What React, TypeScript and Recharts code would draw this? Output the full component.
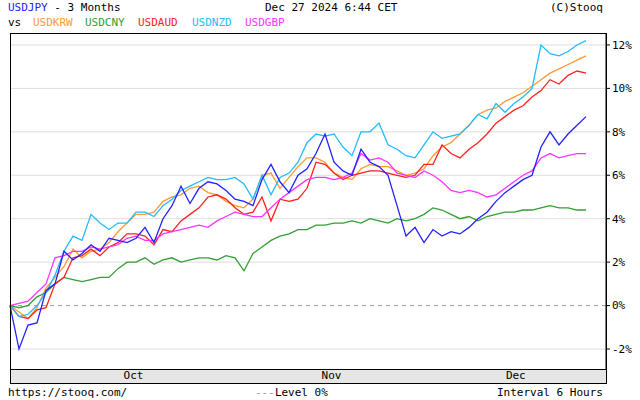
import React from 'react';
import { LineChart, Line, XAxis, YAxis, CartesianGrid, ReferenceLine } from 'recharts';

// % change since start, one value per trading day (Sep 27 .. Dec 27 2024)
const usdjpy = [0, -2.0, -0.9, -0.8, 0.7, 1.0, 2.5, 2.1, 2.4, 2.8, 2.5, 3.1, 3.0, 2.9, 3.1, 3.6, 2.9, 4.0, 4.6, 5.5, 4.7, 5.4, 5.7, 5.6, 5.3, 4.9, 4.8, 4.6, 5.8, 6.5, 5.7, 5.2, 6.0, 6.3, 7.0, 7.9, 6.6, 6.2, 6.0, 7.2, 6.6, 6.4, 6.0, 4.6, 3.2, 3.6, 2.9, 3.5, 3.2, 3.4, 3.3, 3.6, 4.0, 4.3, 4.8, 5.2, 5.5, 5.8, 6.0, 7.3, 8.0, 7.4, 7.9, 8.3, 8.7];
const usdkrw = [0, -0.3, -0.6, -0.1, 0.8, 1.3, 1.8, 2.6, 2.2, 2.5, 2.6, 2.9, 3.4, 3.8, 4.2, 4.2, 4.3, 4.8, 5.0, 5.1, 5.4, 5.5, 5.2, 5.1, 4.8, 4.6, 4.5, 4.9, 6.0, 6.1, 5.4, 5.9, 6.4, 6.8, 6.8, 6.6, 6.1, 5.9, 5.8, 6.3, 6.5, 6.4, 6.4, 6.2, 6.0, 6.1, 6.3, 6.9, 7.3, 7.5, 7.9, 8.3, 8.8, 9.0, 9.1, 9.4, 9.6, 9.8, 10.1, 10.4, 10.7, 10.9, 11.1, 11.3, 11.5];
const usdcny = [0, -0.1, 0.0, 0.4, 0.6, 1.0, 1.3, 1.2, 1.1, 1.2, 1.3, 1.3, 1.7, 2.0, 2.0, 2.2, 1.9, 2.1, 2.2, 2.0, 2.1, 2.2, 2.2, 2.1, 2.3, 2.2, 1.6, 2.4, 2.7, 3.0, 3.2, 3.3, 3.5, 3.5, 3.7, 3.7, 3.8, 3.8, 3.9, 3.8, 4.0, 3.9, 3.8, 4.0, 3.9, 4.0, 4.2, 4.5, 4.4, 4.2, 4.0, 4.1, 3.9, 4.1, 4.2, 4.3, 4.3, 4.4, 4.4, 4.5, 4.6, 4.5, 4.5, 4.4, 4.4];
const usdaud = [0, -0.5, -0.6, -0.2, -0.1, 1.0, 1.3, 2.2, 2.3, 2.6, 2.3, 2.7, 2.9, 3.3, 3.3, 3.2, 2.8, 3.5, 3.4, 3.9, 4.2, 4.5, 5.0, 5.1, 4.9, 4.5, 4.2, 4.3, 5.0, 3.9, 4.9, 4.8, 4.9, 5.4, 6.6, 6.5, 6.1, 5.8, 6.0, 6.1, 6.2, 6.2, 6.1, 6.0, 5.9, 6.0, 6.5, 6.5, 7.4, 7.0, 6.8, 7.2, 7.5, 7.9, 8.4, 8.7, 9.0, 9.2, 9.6, 9.9, 10.4, 10.2, 10.6, 10.8, 10.7];
const usdnzd = [0, -0.5, -0.4, 0.0, 0.6, 1.4, 2.5, 3.2, 3.0, 4.2, 3.8, 3.5, 3.8, 3.8, 4.3, 4.3, 4.1, 4.6, 4.9, 5.3, 5.5, 5.7, 5.9, 5.8, 5.8, 5.9, 5.6, 4.9, 6.0, 5.1, 5.9, 6.1, 6.6, 7.5, 7.9, 7.8, 7.9, 7.3, 6.9, 8.0, 8.0, 8.4, 7.4, 7.2, 6.9, 6.8, 7.4, 8.0, 7.7, 7.8, 7.9, 8.3, 8.8, 8.6, 9.3, 8.9, 9.3, 9.6, 10.0, 12.0, 11.6, 11.5, 11.7, 12.0, 12.2];
const usdgbp = [0, 0.1, 0.2, 0.6, 1.0, 2.2, 2.3, 2.5, 2.5, 2.7, 2.6, 2.7, 2.8, 3.1, 3.2, 3.0, 3.0, 3.3, 3.4, 3.5, 3.6, 3.7, 3.6, 3.9, 4.1, 4.3, 4.2, 4.1, 4.1, 4.5, 4.9, 5.2, 5.5, 5.8, 5.9, 5.9, 5.8, 5.9, 6.1, 7.0, 6.7, 6.8, 6.6, 6.1, 6.0, 5.9, 6.2, 6.0, 5.7, 5.3, 5.2, 5.3, 5.2, 5.0, 5.1, 5.4, 5.7, 6.0, 6.2, 6.8, 7.0, 6.8, 6.9, 7.0, 7.0];

const yTicks = [-2, 0, 2, 4, 6, 8, 10, 12];
const monthStarts = [2.22, 25.22, 46.22];
const monthNames = ['Oct', 'Nov', 'Dec'];
const monthMids = [13.72, 35.72, 56.2];

const series = [
  { key: 'USDKRW', data: usdkrw, color: '#ff9933' },
  { key: 'USDCNY', data: usdcny, color: '#33a033' },
  { key: 'USDAUD', data: usdaud, color: '#ff2020' },
  { key: 'USDNZD', data: usdnzd, color: '#22bbff' },
  { key: 'USDGBP', data: usdgbp, color: '#ff33ff' },
  { key: 'USDJPY', data: usdjpy, color: '#2222ff' },
];

const rows = usdjpy.map((_, i) => {
  const r: any = { k: i };
  series.forEach(s => { r[s.key] = s.data[i]; });
  return r;
});

const font = '"DejaVu Sans Mono", monospace';

const Txt = ({ x, y, color = '#000', children }: any) => (
  <div style={{ position: 'absolute', left: x, top: y, color, fontFamily: font, fontSize: 11, lineHeight: '13px', whiteSpace: 'pre' }}>
    {children}
  </div>
);

export default function App() {
  return (
    <div style={{ position: 'absolute', left: 0, top: 0, width: 640, height: 400, background: '#fff', overflow: 'hidden' }}>
      <Txt x={8} y={1}><span style={{ color: '#2222ff' }}>USDJPY</span> - 3 Months</Txt>
      <Txt x={265} y={1}>Dec 27 2024 6:44 CET</Txt>
      <Txt x={550} y={1}>(C)Stooq</Txt>
      <Txt x={8} y={16}>vs</Txt>
      <Txt x={33} y={16} color="#ff9933">USDKRW</Txt>
      <Txt x={85} y={16} color="#33a033">USDCNY</Txt>
      <Txt x={138} y={16} color="#ff2020">USDAUD</Txt>
      <Txt x={192} y={16} color="#22bbff">USDNZD</Txt>
      <Txt x={245} y={16} color="#ff33ff">USDGBP</Txt>

      <div style={{ position: 'absolute', left: 10, top: 369, width: 596, height: 14, background: '#e6e6e6' }} />

      <div style={{ position: 'absolute', left: 0, top: 0 }}>
        <LineChart width={640} height={400} data={rows} margin={{ top: 33, right: 0, left: 10, bottom: 17 }}>
          <CartesianGrid stroke="#dddddd" horizontalValues={yTicks.filter(v => v !== 0)} verticalValues={monthStarts} />
          <XAxis dataKey="k" type="number" domain={[0, 66.22]} ticks={monthStarts} height={0} tick={false} tickSize={4} mirror axisLine={{ stroke: '#000' }} tickLine={{ stroke: '#000' }} />
          <XAxis xAxisId="m" dataKey="k" type="number" domain={[0, 66.22]} ticks={monthMids} height={14} tickLine={false} axisLine={false} tickSize={0} tickMargin={2}
            tickFormatter={(v: number) => monthNames[monthMids.indexOf(v)]} tick={{ fill: '#000', fontFamily: font, fontSize: 11 }} />
          <YAxis orientation="right" width={34} domain={[-2.92, 12.55]} ticks={yTicks} tickSize={4} tickMargin={2} allowDataOverflow
            tickFormatter={(v: number) => v + '%'} axisLine={{ stroke: '#000' }} tickLine={{ stroke: '#000' }}
            tick={{ fill: '#000', fontFamily: font, fontSize: 11, textAnchor: 'start' }} />
          <ReferenceLine y={0} stroke="#999" strokeDasharray="4 4" />
          {series.map(s => (
            <Line key={s.key} type="linear" dataKey={s.key} stroke={s.color} strokeWidth={1.3} dot={false} isAnimationActive={false} />
          ))}
        </LineChart>
      </div>

      <div style={{ position: 'absolute', left: 10, top: 33, width: 597, height: 351, border: '1px solid #000', boxSizing: 'border-box', pointerEvents: 'none' }} />
      <div style={{ position: 'absolute', left: 10, top: 369, width: 597, height: 1, background: '#000' }} />

      <Txt x={8} y={386}>https://stooq.com/</Txt>
      <Txt x={255} y={386}><span style={{ color: '#999' }}>---</span>Level 0%</Txt>
      <Txt x={497} y={386}>Interval 6 Hours</Txt>
    </div>
  );
}
